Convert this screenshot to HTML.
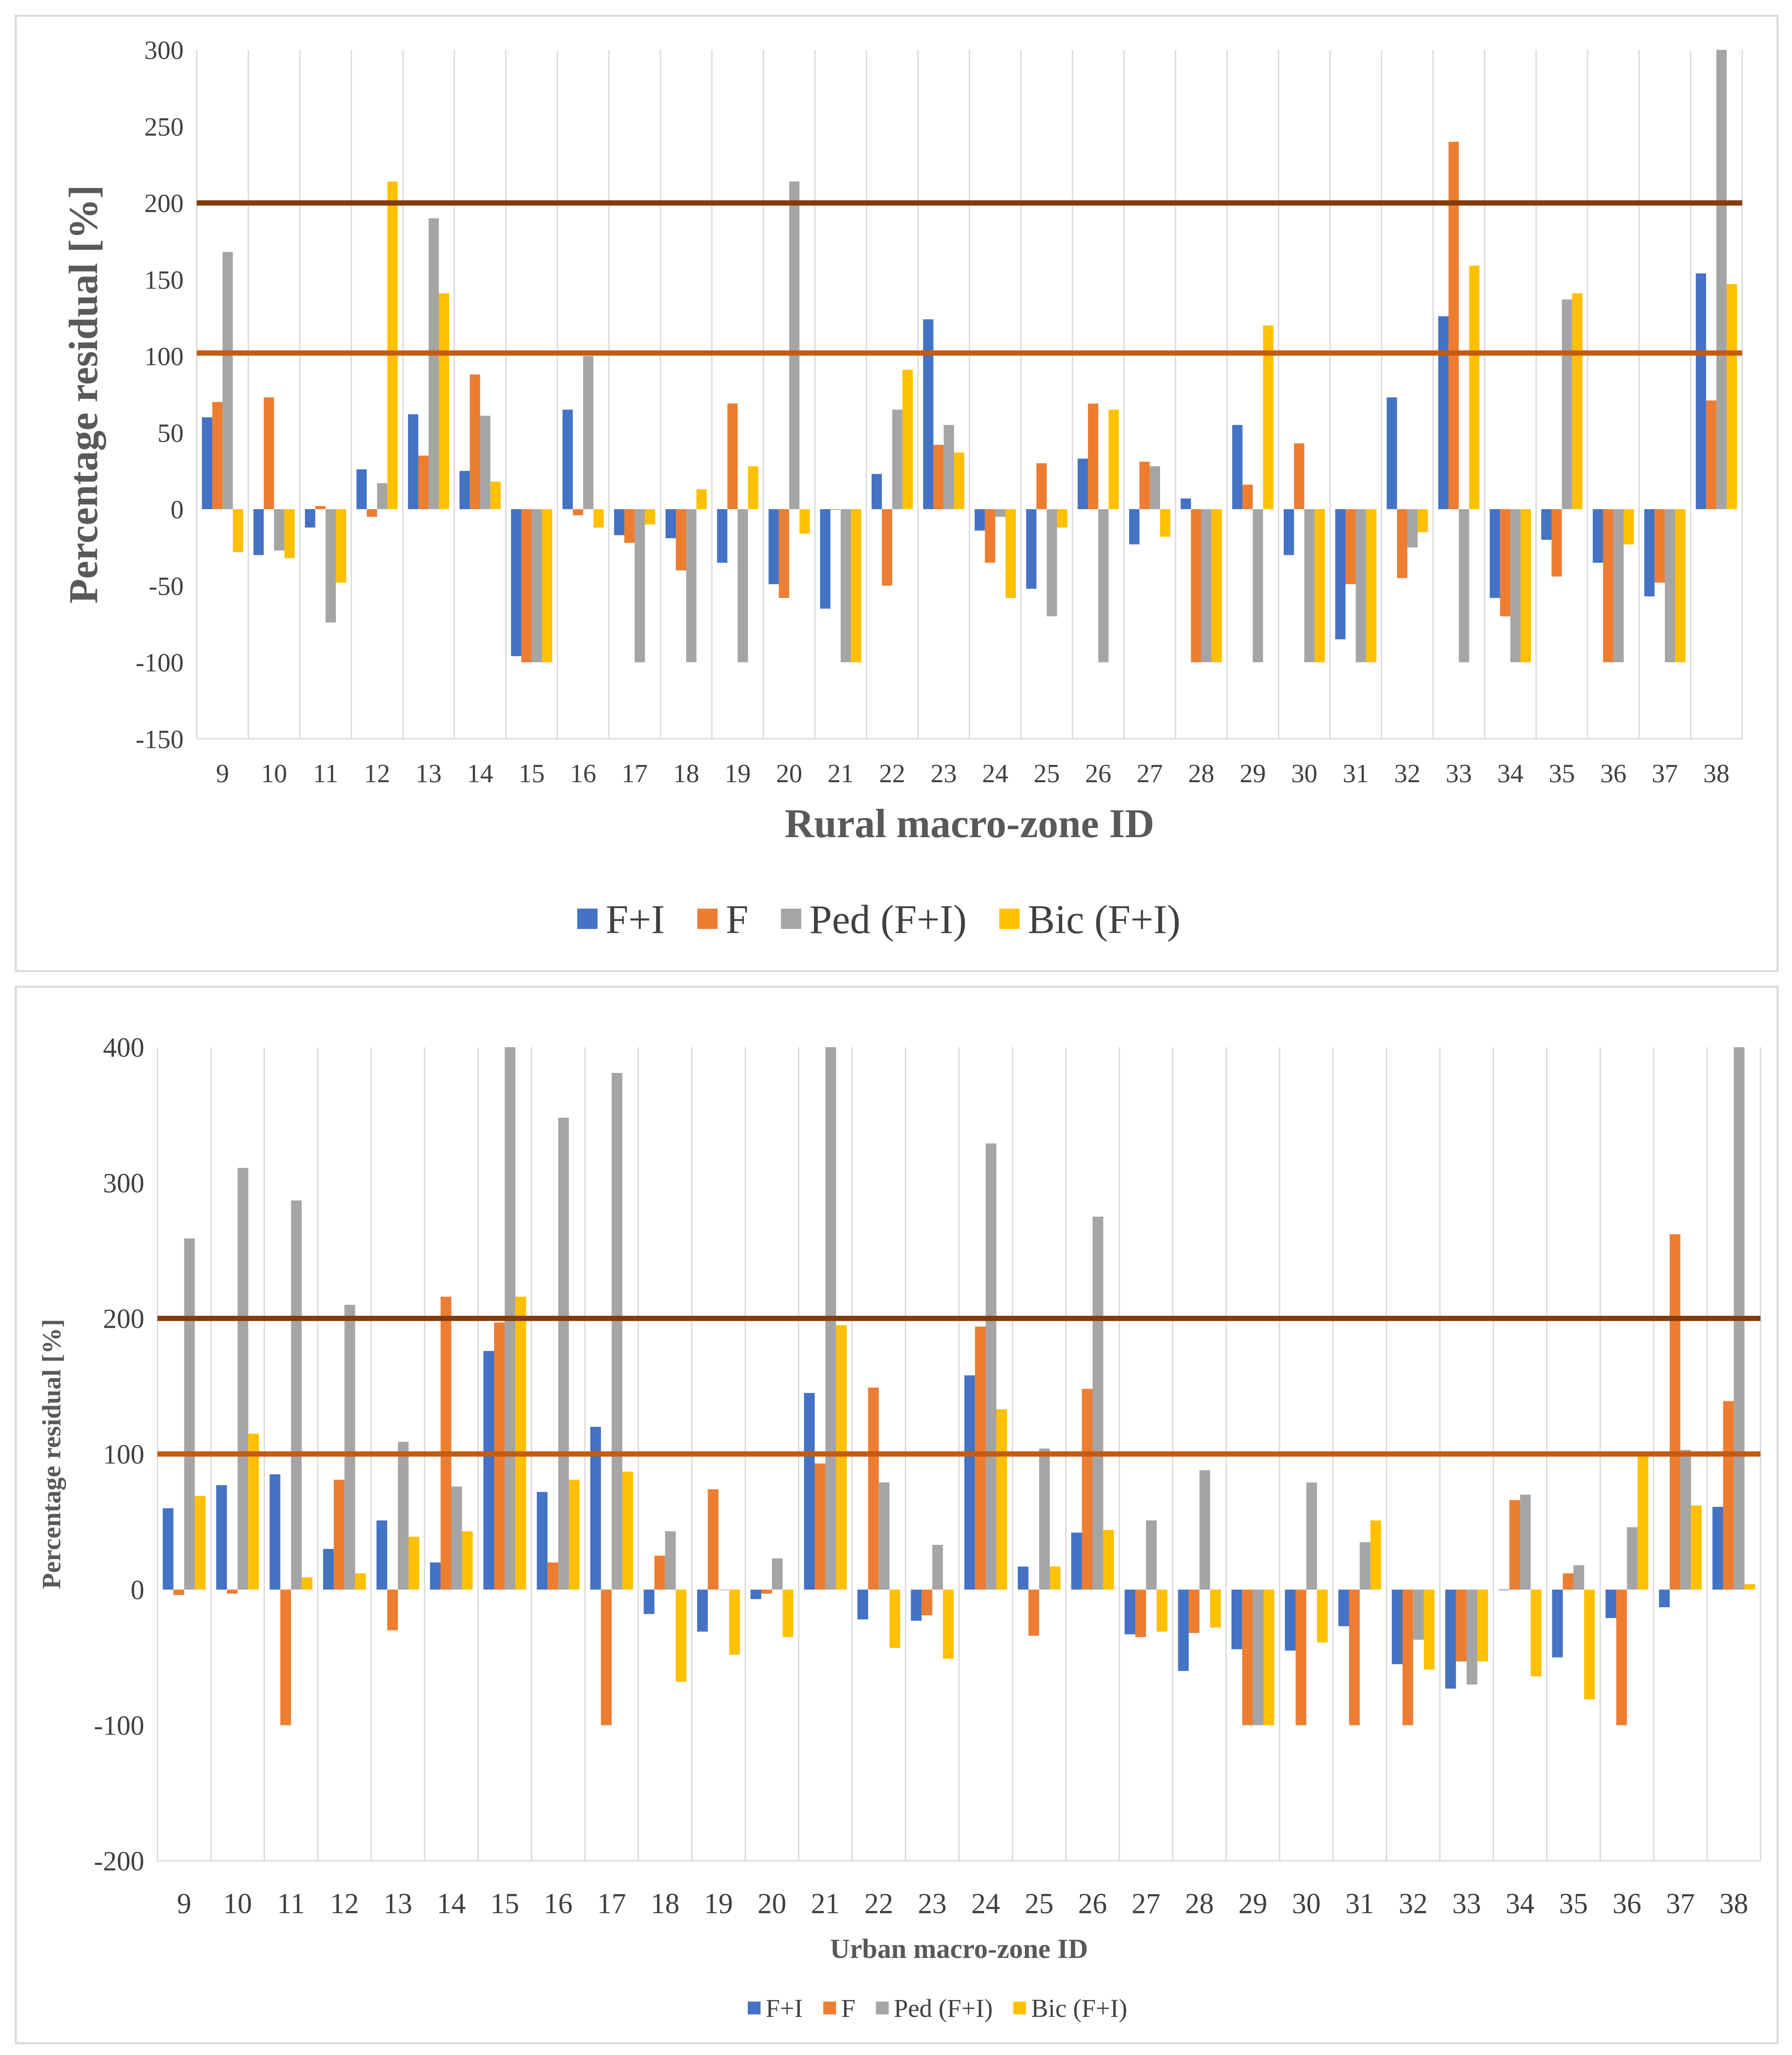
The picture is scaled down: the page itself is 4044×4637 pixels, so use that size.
<!DOCTYPE html>
<html><head><meta charset="utf-8">
<style>
html,body{margin:0;padding:0;background:#fff;}
svg{display:block;}
text{font-family:"Liberation Serif",serif;}
</style></head>
<body>
<svg id="chart" width="4044" height="4637" viewBox="0 0 1366 1566" preserveAspectRatio="none" xmlns="http://www.w3.org/2000/svg">
<rect x="0" y="0" width="1366" height="1566" fill="#fff"/>
<g id="top"></g>
<g id="bot"></g>
</svg>
<script>
const categories = [9,10,11,12,13,14,15,16,17,18,19,20,21,22,23,24,25,26,27,28,29,30,31,32,33,34,35,36,37,38];
const seriesNames = ["F+I","F","Ped (F+I)","Bic (F+I)"];
const seriesColors = ["#4472c4","#ed7d31","#a5a5a5","#ffc000"];
const ruralFI  = [60,-30,-12,26,62,25,-96,65,-17,-19,-35,-49,-65,23,124,-14,-52,33,-23,7,55,-30,-85,73,126,-58,-20,-35,-57,154];
const ruralF   = [70,73,2,-5,35,88,-100,-4,-22,-40,69,-58,0,-50,42,-35,30,69,31,-100,16,43,-49,-45,240,-70,-44,-100,-48,71];
const ruralPed = [168,-27,-74,17,190,61,-100,100,-100,-100,-100,214,-100,65,55,-5,-70,-100,28,-100,-100,-100,-100,-25,-100,-100,137,-100,-100,300];
const ruralBic = [-28,-32,-48,214,141,18,-100,-12,-10,13,28,-16,-100,91,37,-58,-12,65,-18,-100,120,-100,-100,-15,159,-100,141,-23,-100,147];
const urbanFI  = [60,77,85,30,51,20,176,72,120,-18,-31,-7,145,-22,-23,158,17,42,-33,-60,-44,-45,-27,-55,-73,0,-50,-21,-13,61];
const urbanF   = [-4,-3,-100,81,-30,216,197,20,-100,25,74,-3,93,149,-19,194,-34,148,-35,-32,-100,-100,-100,-100,-53,66,12,-100,262,139];
const urbanPed = [259,311,287,210,109,76,400,348,381,43,0,23,400,79,33,329,104,275,51,88,-100,79,35,-37,-70,70,18,46,103,400];
const urbanBic = [69,115,9,12,39,43,216,81,87,-68,-48,-35,195,-43,-51,133,17,44,-31,-28,-100,-39,51,-59,-53,-64,-81,100,62,4];
const ruralTicks = [300,250,200,150,100,50,0,-50,-100,-150];
const urbanTicks = [400,300,200,100,0,-100,-200];
const ruralRefLines = [200,102];
const urbanRefLines = [200,100];

const NS="http://www.w3.org/2000/svg";
function mk(parent,tag,attrs,txt){const e=document.createElementNS(NS,tag);for(const k in attrs)e.setAttribute(k,attrs[k]);if(txt!==undefined)e.textContent=txt;parent.appendChild(e);return e;}

function drawChart(g,cfg){
  const border=mk(g,'rect',{x:cfg.box[0],y:cfg.box[1],width:cfg.box[2],height:cfg.box[3],fill:'#fff',stroke:'#d9d9d9','stroke-width':1.5});
  
  
  const yScale=v=>cfg.y0+(cfg.yMax-v)*(cfg.y1-cfg.y0)/(cfg.yMax-cfg.yMin);
  const band=(cfg.x1-cfg.x0)/categories.length;
  const xScale=i=>cfg.x0+i*band;
  for(let i=0;i<=categories.length;i++){
    const l=mk(g,'line',{x1:xScale(i),x2:xScale(i),y1:cfg.y0,y2:cfg.y1,stroke:'#d9d9d9','stroke-width':1});
    
    
  }
  const bl=mk(g,'line',{x1:cfg.x0,x2:cfg.x1,y1:cfg.y1,y2:cfg.y1,stroke:'#d9d9d9','stroke-width':1});
  
  
  cfg.ticks.forEach(t=>{
    const tx=mk(g,'text',{x:cfg.x0-10,y:yScale(t)+cfg.tickFs*0.35,'text-anchor':'end','font-size':cfg.tickFs,fill:'#404040'},String(t));
    
    
  });
  categories.forEach((c,i)=>{
    const tx=mk(g,'text',{x:xScale(i)+band/2,y:cfg.xLabY,'text-anchor':'middle','font-size':cfg.xFs,fill:'#404040'},String(c));
    
    
  });
  const bw=band*0.2;
  cfg.series.forEach((s,si)=>{
    s.forEach((v,i)=>{
      const x=xScale(i)+band*0.1+si*bw;
      const y0=yScale(0),yv=yScale(Math.max(cfg.yMin,Math.min(cfg.yMax,v)));
      const r=mk(g,'rect',{x:x,y:Math.min(y0,yv),width:bw,height:Math.max(0.5,Math.abs(yv-y0)),fill:seriesColors[si]});
      
      
    });
  });
  const refCols=['#843c0c','#c55a11'];
  cfg.refs.forEach((v,k)=>{
    const l=mk(g,'line',{x1:cfg.x0,x2:cfg.x1,y1:yScale(v),y2:yScale(v),stroke:refCols[k],'stroke-width':4});
    
    
  });
  const yt=mk(g,'text',{x:0,y:0,'text-anchor':'middle','font-size':cfg.yTitleFs,'font-weight':'bold',fill:'#595959',transform:`translate(${cfg.yTitleX},${(cfg.y0+cfg.y1)/2}) rotate(-90)`},'Percentage residual [%]');
  
  
  const xt=mk(g,'text',{x:(cfg.x0+cfg.x1)/2,y:cfg.xTitleY,'text-anchor':'middle','font-size':cfg.xTitleFs,'font-weight':'bold',fill:'#595959'},cfg.xTitle);
  
  
  let lx=cfg.legX;
  seriesNames.forEach((n,si)=>{
    const sq=mk(g,'rect',{x:lx,y:cfg.legY-cfg.legFs*0.6,width:cfg.legFs*0.5,height:cfg.legFs*0.5,fill:seriesColors[si]});
    
    
    const t=mk(g,'text',{x:lx+cfg.legFs*0.7,y:cfg.legY,'font-size':cfg.legFs,fill:'#404040'},n);
    
    
    lx+=cfg.legFs*0.7+t.getComputedTextLength()+cfg.legFs*0.8;
  });
}

drawChart(document.getElementById('top'),{
  box:[12,12,1343,728],x0:150,x1:1328,y0:38,y1:563,yMax:300,yMin:-150,
  ticks:ruralTicks,tickFs:20,xFs:20,xLabY:596,
  series:[ruralFI,ruralF,ruralPed,ruralBic],refs:ruralRefLines,
  yTitleX:74,yTitleFs:31,xTitle:'Rural macro-zone ID',xTitleY:638,xTitleFs:31,
  legX:440,legY:711,legFs:31
});
drawChart(document.getElementById('bot'),{
  box:[12,752,1343,805],x0:120,x1:1342,y0:798,y1:1418,yMax:400,yMin:-200,
  ticks:urbanTicks,tickFs:21,xFs:22,xLabY:1458,
  series:[urbanFI,urbanF,urbanPed,urbanBic],refs:urbanRefLines,
  yTitleX:46,yTitleFs:20,xTitle:'Urban macro-zone ID',xTitleY:1492,xTitleFs:21,
  legX:570,legY:1537,legFs:19.5
});
</script>
</body></html>
